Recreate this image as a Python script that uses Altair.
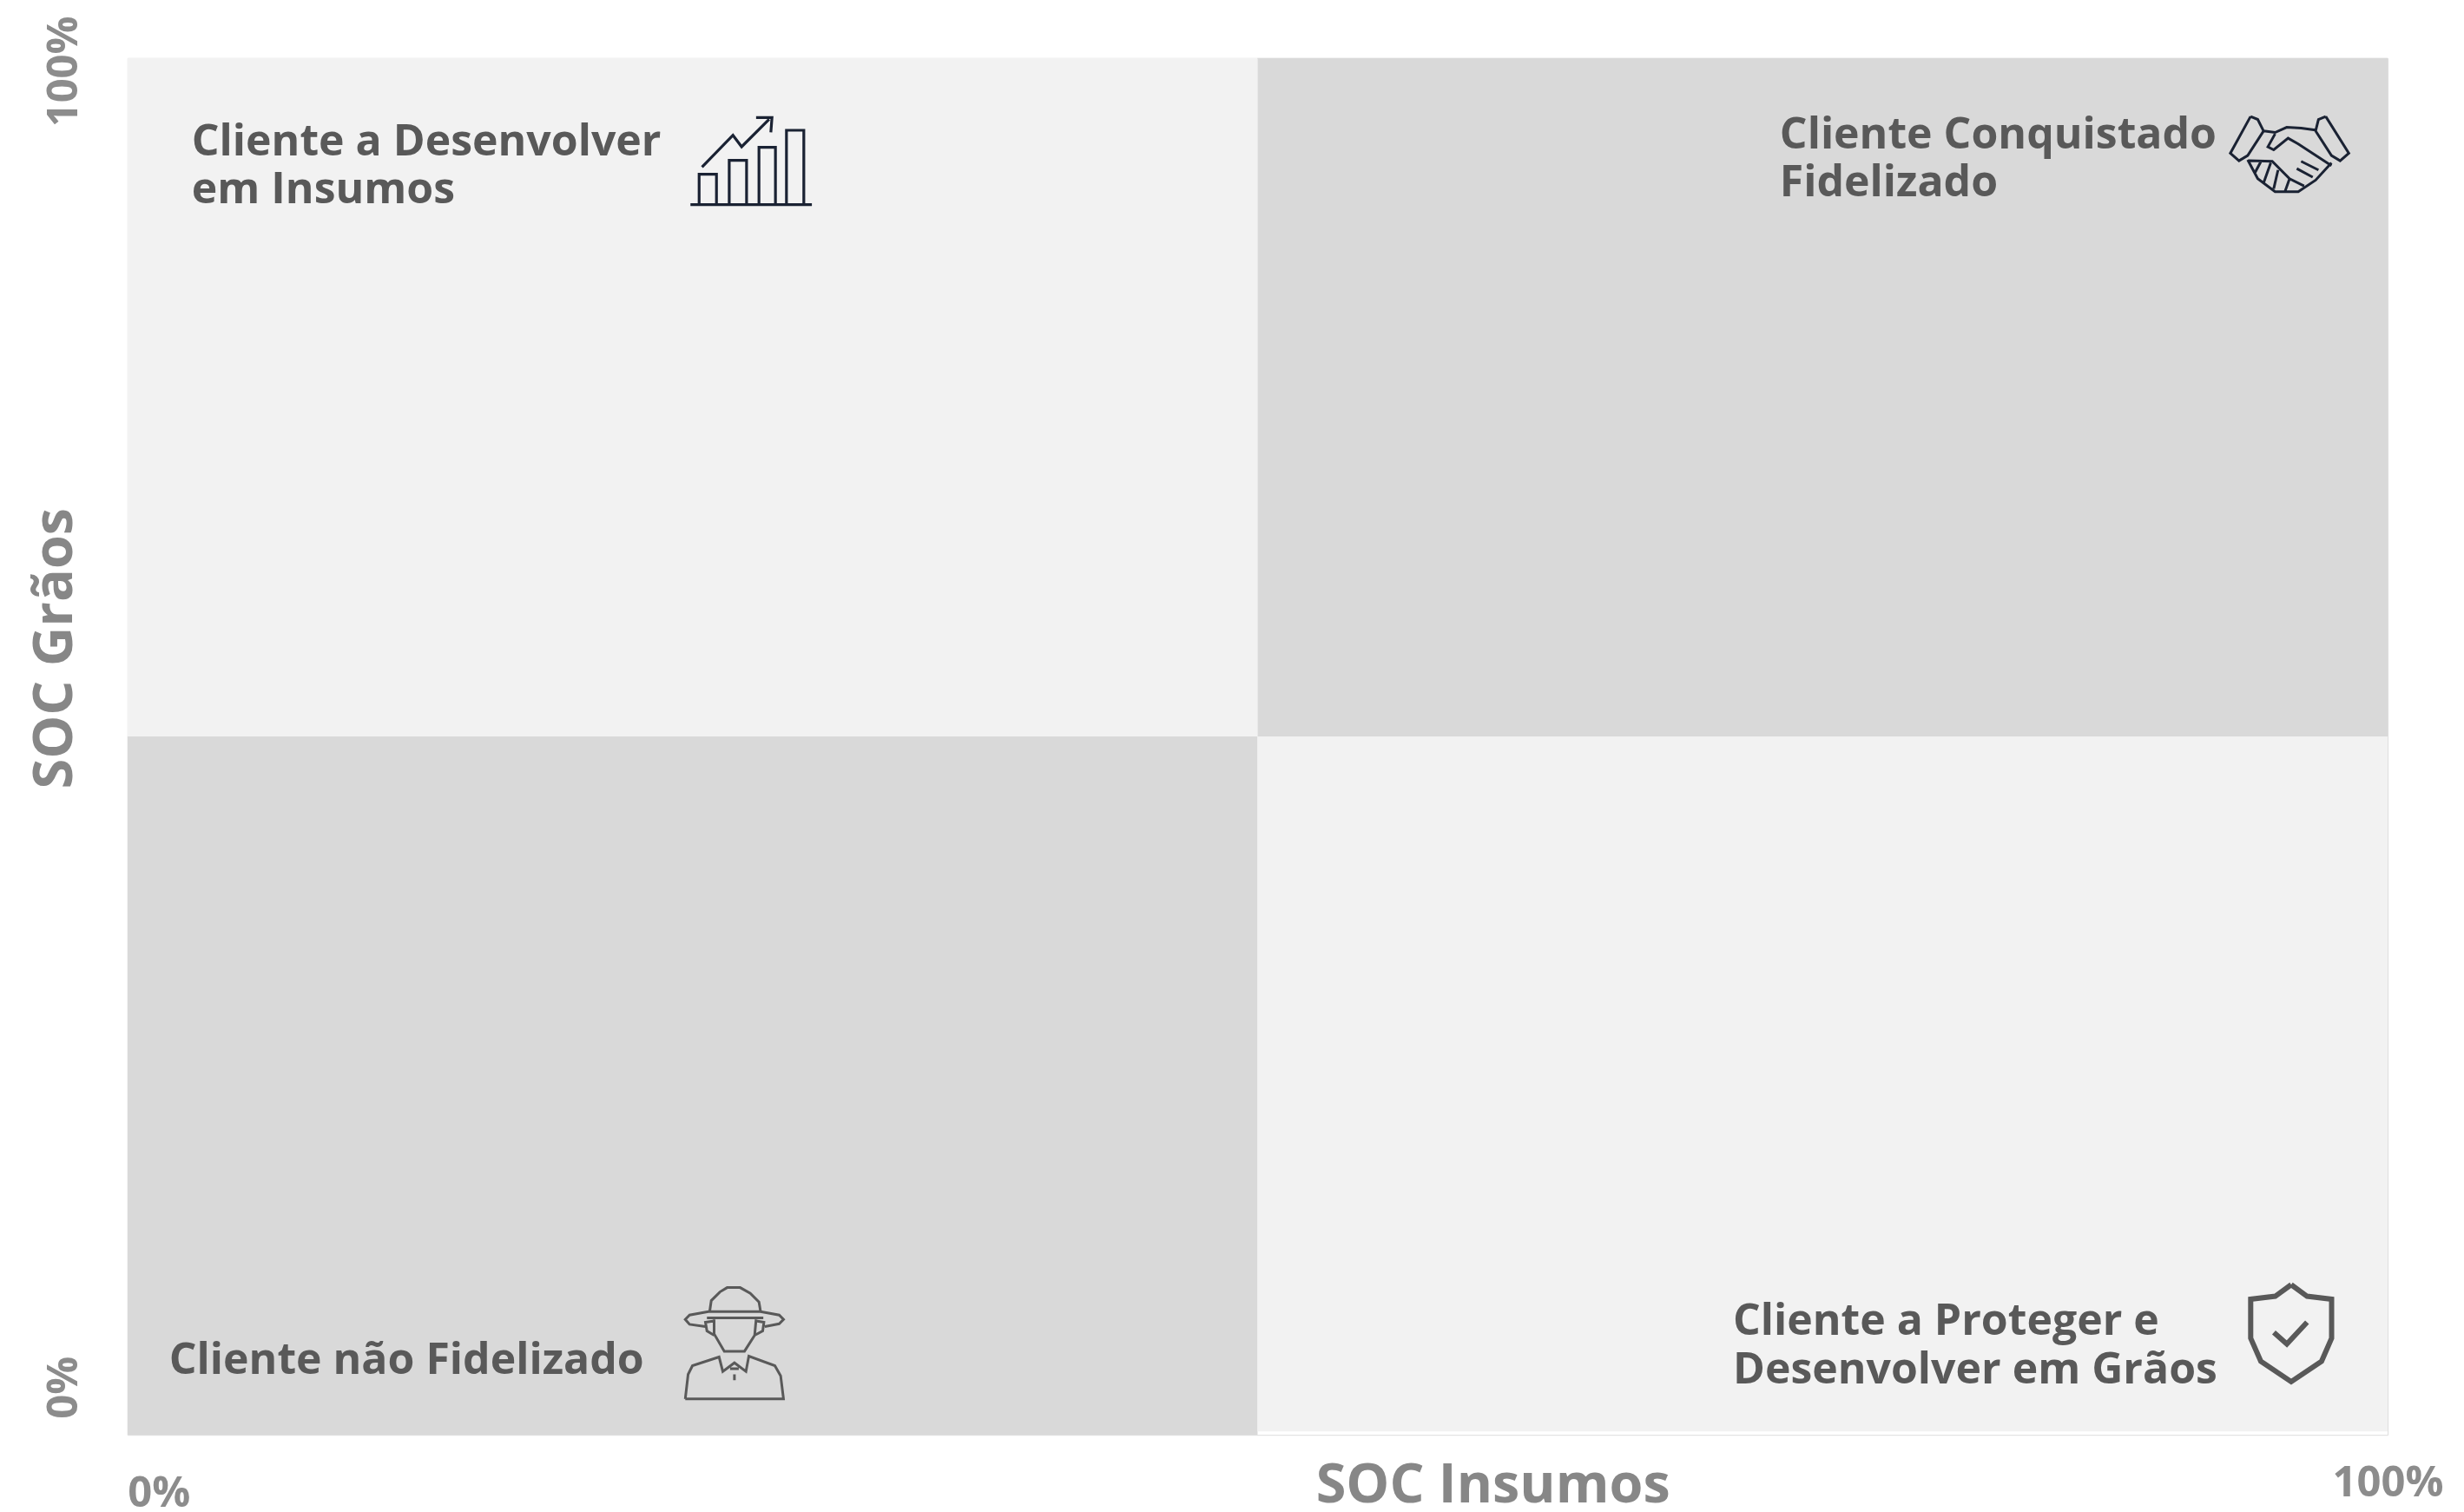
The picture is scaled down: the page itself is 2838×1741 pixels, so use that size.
import altair as alt
import pandas as pd

# Quadrants (x from, x to, y from, y to, colour)
quad_x = [0, 50, 0, 50]
quad_x2 = [50, 100, 50, 100]
quad_y = [50.73, 50.73, 0, 0.25]
quad_y2 = [100, 100, 50.73, 50.73]
quad_color = ["#F2F2F2", "#D9D9D9", "#D9D9D9", "#F2F2F2"]

# Quadrant labels, one row per text line
label_text = ["Cliente a Desenvolver", "em Insumos", "Cliente Conquistado", "Fidelizado",
              "Cliente não Fidelizado", "Cliente a Proteger e", "Desenvolver em Grãos"]
label_x = [2.84, 2.84, 73.10, 73.10, 1.84, 71.03, 71.03]
label_y = [92.94, 89.48, 93.45, 89.98, 4.41, 7.25, 3.72]

tick_values = [0, 100]

# Icon outlines: polylines in pixel units (x3) around each icon's anchor
growth_icon = [
    [(78, 345), (498, 345)],
    [(108, 345), (108, 240), (168, 240), (168, 345)],
    [(212, 345), (212, 192), (272, 192), (272, 345)],
    [(315, 345), (315, 147), (372, 147), (372, 345)],
    [(410, 345), (410, 88), (470, 88), (470, 345)],
    [(118, 215), (225, 105), (255, 145), (350, 50)],
    [(305, 44), (360, 44), (356, 95)],
]
hands_icon = [
    [(105, 55), (130, 65), (150, 105), (95, 190), (65, 208), (35, 182), (105, 55)],
    [(365, 55), (340, 65), (330, 105), (385, 190), (415, 208), (445, 182), (365, 55)],
    [(150, 105), (190, 110), (230, 92), (280, 95), (335, 103)],
    [(190, 115), (165, 160), (185, 170), (235, 130), (270, 150), (385, 225)],
    [(95, 205), (130, 270), (190, 315), (270, 315), (330, 275), (385, 215)],
    [(100, 208), (180, 210), (240, 270), (290, 295)],
    [(140, 212), (120, 250)],
    [(175, 215), (150, 285)],
    [(200, 240), (185, 305)],
    [(240, 270), (225, 312)],
    [(280, 210), (340, 240)],
    [(265, 235), (320, 265)],
]
farmer_icon = [
    [(145, 135), (150, 100), (180, 70), (205, 55), (250, 55), (285, 75), (315, 105), (320, 135)],
    [(130, 190), (75, 182), (60, 165), (75, 150), (140, 138), (320, 138), (385, 150), (400, 165), (385, 180), (335, 190)],
    [(135, 160), (330, 160)],
    [(160, 165), (160, 215), (195, 275), (265, 275), (300, 220), (305, 165)],
    [(160, 170), (130, 175), (135, 205), (160, 220)],
    [(305, 170), (332, 175), (328, 205), (300, 220)],
    [(60, 440), (70, 355), (85, 325), (177, 295), (190, 345), (230, 315), (270, 345), (280, 292), (370, 325), (390, 360), (400, 440), (60, 440)],
    [(230, 355), (230, 375)],
    [(215, 335), (245, 335)],
]
shield_icon = [
    [(215, 45), (270, 85), (355, 95), (355, 230), (320, 310), (215, 380), (110, 310), (75, 230), (75, 95), (160, 85), (215, 45)],
    [(155, 210), (200, 250), (270, 175)],
]
icon_x = [23.91, 92.59, 23.91, 92.98]
icon_y = [96.60, 96.91, 11.85, 11.85]
icon_color = ["#1A2233", "#1A2233", "#595959", "#595959"]
icon_stroke = [3.2, 3, 3, 6]


def to_path(lines):
    return " ".join(
        "M" + " L".join(f"{px / 3:.1f},{py / 3:.1f}" for px, py in line) for line in lines
    )


icons = pd.DataFrame({
    "x": icon_x, "y": icon_y, "color": icon_color, "sw": icon_stroke,
    "shape": [to_path(i) for i in (growth_icon, hands_icon, farmer_icon, shield_icon)],
})
quads = pd.DataFrame({"x": quad_x, "x2": quad_x2, "y": quad_y, "y2": quad_y2, "color": quad_color})
labels = pd.DataFrame({"x": label_x, "y": label_y, "text": label_text})

FONT = "Open Sans"
x_scale = alt.Scale(domain=[0, 100], nice=False, zero=False)
y_scale = alt.Scale(domain=[0, 100], nice=False, zero=False)

x_axis = alt.Axis(
    values=tick_values, grid=False, domain=False, ticks=False,
    labelExpr="datum.value + '%'", labelFont=FONT, labelFontSize=49, labelFontWeight=700,
    labelColor="#8C8C8C", labelAlign=alt.expr("datum.value == 0 ? 'left' : 'center'"),
    labelBaseline="alphabetic", labelPadding=alt.expr("datum.value == 0 ? 82 : 70"),
    labelFlush=False, labelOverlap=False, labelBound=False,
    title="SOC Insumos", titleFont=FONT, titleFontSize=63, titleFontWeight=700, titleColor="#878787",
    titleX=1574, titleY=77, titleAlign="center", titleBaseline="alphabetic",
)
y_axis = alt.Axis(
    values=tick_values, grid=False, domain=False, ticks=False,
    labelExpr="datum.value + '%'", labelFont=FONT, labelFontSize=49, labelFontWeight=700,
    labelColor="#8C8C8C", labelAngle=270, labelAlign="center", labelBaseline="alphabetic",
    labelPadding=58, labelOffset=alt.expr("datum.value == 0 ? -55 : 15"),
    labelFlush=False, labelOverlap=False, labelBound=False,
    title="SOC Grãos", titleFont=FONT, titleFontSize=63, titleFontWeight=700, titleColor="#878787",
    titleAngle=270, titleX=-64, titleY=680, titleAlign="center", titleBaseline="alphabetic",
)

rects = alt.Chart(quads).mark_rect().encode(
    x=alt.X("x:Q", scale=x_scale, axis=x_axis),
    x2="x2:Q",
    y=alt.Y("y:Q", scale=y_scale, axis=y_axis),
    y2="y2:Q",
    color=alt.Color("color:N", scale=None),
)
texts = alt.Chart(labels).mark_text(
    font=FONT, fontSize=50, fontWeight=700, color="#595959", align="left", baseline="alphabetic"
).encode(
    x=alt.X("x:Q", scale=x_scale), y=alt.Y("y:Q", scale=y_scale), text="text:N"
)
glyphs = alt.Chart(icons).mark_point(filled=False, size=4, opacity=1).encode(
    x=alt.X("x:Q", scale=x_scale),
    y=alt.Y("y:Q", scale=y_scale),
    shape=alt.Shape("shape:N", scale=None),
    stroke=alt.Stroke("color:N", scale=None),
    strokeWidth=alt.StrokeWidth("sw:Q", scale=None),
)

chart = (
    alt.layer(rects, texts, glyphs)
    .properties(
        width=2606, height=1587,
        autosize=alt.AutoSizeParams(type="none"),
        padding={"left": 139, "top": 58, "right": 80, "bottom": 85},
    )
    .configure_view(stroke=None)
    .configure(background="white")
)
chart.save("out.html", embed_options={"renderer": "svg", "actions": False})
